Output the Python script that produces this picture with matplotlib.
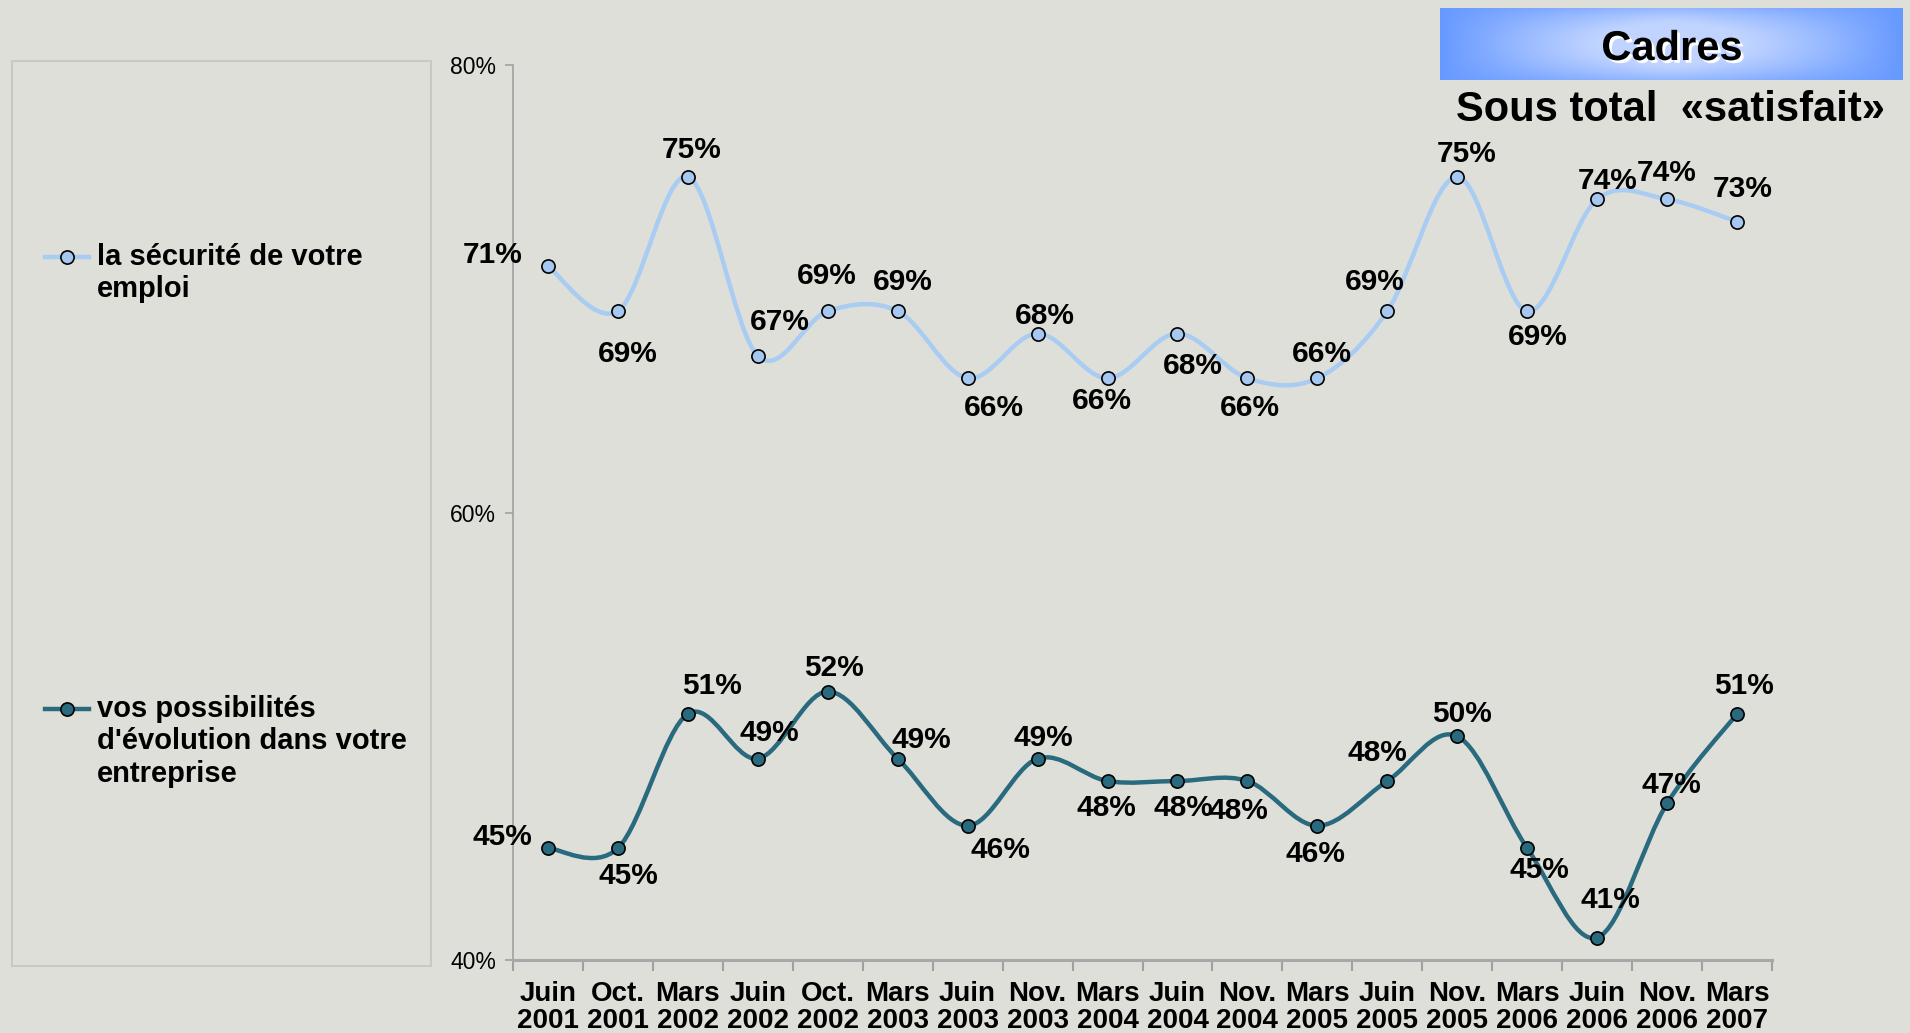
import numpy as np
import matplotlib
matplotlib.use('Agg')
import matplotlib.pyplot as plt
from matplotlib.path import Path
from matplotlib.patches import PathPatch, Rectangle
from matplotlib.lines import Line2D
import matplotlib.patheffects as pe

# Data
periods = ['Juin\n2001', 'Oct.\n2001', 'Mars\n2002', 'Juin\n2002', 'Oct.\n2002', 'Mars\n2003',
           'Juin\n2003', 'Nov.\n2003', 'Mars\n2004', 'Juin\n2004', 'Nov.\n2004', 'Mars\n2005',
           'Juin\n2005', 'Nov.\n2005', 'Mars\n2006', 'Juin\n2006', 'Nov.\n2006', 'Mars\n2007']
securite = [71, 69, 75, 67, 69, 69, 66, 68, 66, 68, 66, 66, 69, 75, 69, 74, 74, 73]
evolution = [45, 45, 51, 49, 52, 49, 46, 49, 48, 48, 48, 46, 48, 50, 45, 41, 47, 51]
series_names = ['la sécurité de votre\nemploi',
                "vos possibilités\nd'évolution dans votre\nentreprise"]

# label placement (pixel offsets from the point, x right / y up)
off_sec = [(-55, 11), (10, -43), (4, 27), (22, 34), (-1, 35), (5, 29), (26, -30), (7, 18),
           (-6, -23), (15, -32), (2, -30), (5, 24), (-13, 29), (9, 23), (11, -26), (10, 18),
           (0, 26), (6, 33)]
off_evo = [(-46, 11), (10, -28), (24, 28), (12, 26), (6, 24), (24, 19), (33, -24), (6, 21),
           (-1, -27), (6, -27), (-9, -30), (-2, -28), (-10, 28), (5, 22), (12, -22), (13, 38),
           (4, 18), (7, 28)]

BG = '#DFDFD9'
C_SEC = '#A9CCF2'
C_EVO = '#2A6A7E'
FONT = 'Liberation Sans'
plt.rcParams['font.family'] = [FONT, 'DejaVu Sans']

fig = plt.figure(figsize=(19.10, 10.33), dpi=100, facecolor=BG)
W, H = 1910, 1033

ax = fig.add_axes([513 / W, 73 / H, 1259 / W, 895 / H])
ax.set_facecolor('none')


def smooth_path(vals):
    # Catmull-Rom style bezier through the points (like a smoothed line)
    pts = np.column_stack([np.arange(len(vals)), np.asarray(vals, float)])
    n = len(pts)
    verts = [pts[0]]
    codes = [Path.MOVETO]
    for i in range(n - 1):
        p0 = pts[max(i - 1, 0)]
        p1 = pts[i]
        p2 = pts[i + 1]
        p3 = pts[min(i + 2, n - 1)]
        verts += [p1 + (p2 - p0) / 6, p2 - (p3 - p1) / 6, p2]
        codes += [Path.CURVE4] * 3
    return Path(verts, codes)


for vals, col, face, offs in [(securite, C_SEC, '#A6C8F0', off_sec),
                              (evolution, C_EVO, '#2A6A7E', off_evo)]:
    ax.add_patch(PathPatch(smooth_path(vals), fill=False, edgecolor=col, lw=3.2,
                           capstyle='round', joinstyle='round', zorder=2))
    ax.plot(range(len(vals)), vals, ls='none', marker='o', ms=9.5, mfc=face,
            mec='black', mew=1.2, zorder=3)
    for i, v in enumerate(vals):
        ax.annotate(f'{v}%', (i, v), xytext=offs[i], textcoords='offset pixels',
                    ha='center', va='center', fontsize=21.5, fontweight='bold',
                    color='black', zorder=4)

ax.set_xlim(-0.5, len(periods) - 0.5)
ax.set_ylim(40, 80)
ax.set_yticks([40, 60, 80])
ax.set_yticklabels(['40%', '60%', '80%'])
ax.set_xticks(range(len(periods)))
ax.set_xticklabels(periods, fontsize=20, fontweight='bold', linespacing=1.08)
ax.set_xticks(np.arange(-0.5, len(periods)), minor=True)
ax.tick_params(axis='x', which='major', length=0, pad=15)
ax.tick_params(axis='x', which='minor', length=8, width=1.5, color='#A0A0A0')
ax.tick_params(axis='y', length=6, width=1.2, color='#A0A0A0', labelsize=16.5, pad=6)
for s in ['top', 'right']:
    ax.spines[s].set_visible(False)
ax.spines['left'].set_color('#A0A0A0')
ax.spines['bottom'].set_color('#A8A8A8')
ax.spines['left'].set_linewidth(1.2)
ax.spines['bottom'].set_linewidth(2.2)

# legend panel
fig.patches.append(Rectangle((12 / W, 67 / H), 419 / W, 905 / H, transform=fig.transFigure,
                             facecolor='none', edgecolor='#C8C8C4', lw=1.5))
for (ly, name, col, face) in [(257, series_names[0], C_SEC, '#A6C8F0'),
                              (709, series_names[1], C_EVO, '#2A6A7E')]:
    yy = 1 - ly / H
    fig.lines.append(Line2D([45 / W, 89 / W], [yy, yy], transform=fig.transFigure,
                            color=col, lw=3.2))
    fig.lines.append(Line2D([67 / W], [yy], transform=fig.transFigure, marker='o',
                            ms=9.5, mfc=face, mec='black', mew=1.2))
    fig.text(97 / W, yy + 14 / H, name, ha='left', va='top', fontsize=21,
             fontweight='bold', linespacing=1.2)

# title box with gradient
tax = fig.add_axes([1440 / W, 1 - 80 / H, 463 / W, 72 / H])
gx = np.linspace(-1, 1, 400)
gy = np.linspace(-1, 1, 60)
GX, GY = np.meshgrid(gx, gy)
t = (1 - np.abs(GX) ** 1.3) * (1 - 0.6 * np.abs(GY) ** 2)
c_edge = np.array([0x66, 0x99, 0xFF]) / 255
c_mid = np.array([0xC0, 0xD4, 0xFF]) / 255
img = c_edge + (c_mid - c_edge) * np.clip(t * 1.3, 0, 1)[..., None]
tax.imshow(img, aspect='auto', extent=[0, 1, 0, 1])
tax.axis('off')
fig.text(1672 / W, 1 - 49 / H, 'Cadres', ha='center', va='center', fontsize=30,
         fontweight='bold',
         path_effects=[pe.SimplePatchShadow(offset=(2, -2), shadow_rgbFace='white', alpha=1),
                       pe.Normal()])
fig.text(1670 / W, 1 - 110 / H, 'Sous total  «satisfait»', ha='center', va='center',
         fontsize=30, fontweight='bold')

fig.savefig('out.png', dpi=100, facecolor=BG)
